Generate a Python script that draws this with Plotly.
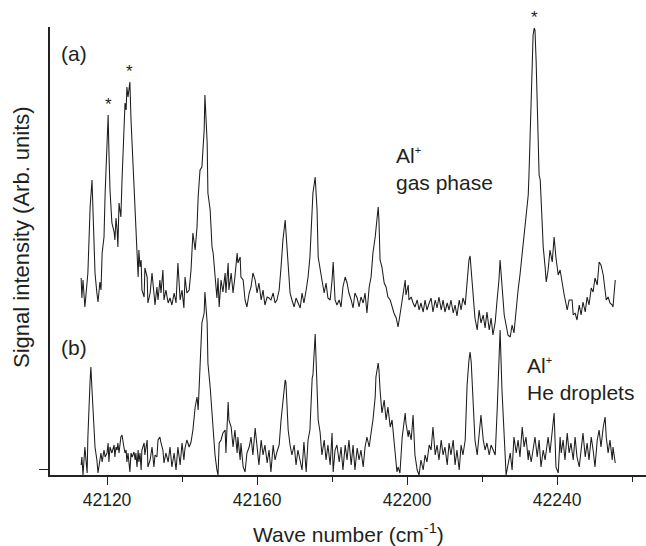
import numpy as np
import plotly.graph_objects as go

# ---------------- data ----------------
WN_A = [42113.1, 42113.3, 42113.6, 42114.1, 42114.9, 42115.5, 42116.0, 42116.5, 42116.8, 42117.3,
        42117.6, 42118.1, 42118.4, 42118.7, 42119.2, 42119.5, 42120.0, 42120.3, 42120.5, 42120.8,
        42121.3, 42121.9, 42122.1, 42122.4, 42122.7, 42122.9, 42123.2, 42123.7, 42124.0, 42124.5,
        42124.8, 42125.1, 42125.3, 42125.6, 42126.1, 42126.4, 42126.7, 42127.2, 42127.5, 42127.7,
        42128.0, 42128.3, 42128.5, 42128.8, 42129.1, 42129.3, 42129.9, 42130.1, 42130.7, 42130.9,
        42131.5, 42132.0, 42132.5, 42132.8, 42133.3, 42133.6, 42134.1, 42134.4, 42134.9, 42135.2,
        42135.7, 42136.3, 42136.8, 42137.3, 42137.9, 42138.4, 42138.9, 42139.5, 42140.0, 42140.5,
        42140.8, 42141.3, 42141.9, 42142.4, 42142.9, 42143.5, 42144.0, 42144.3, 42144.8, 42145.3,
        42145.9, 42146.1, 42146.7, 42146.9, 42147.5, 42148.0, 42148.3, 42148.8, 42149.3, 42149.6,
        42149.9, 42150.4, 42150.9, 42151.5, 42151.7, 42152.3, 42152.5, 42153.1, 42153.6, 42154.1,
        42154.7, 42154.9, 42155.5, 42155.7, 42156.3, 42156.8, 42157.3, 42157.9, 42158.4, 42158.9,
        42159.5, 42160.0, 42160.5, 42161.1, 42161.6, 42162.1, 42162.7, 42163.2, 42163.7, 42164.3,
        42164.8, 42165.3, 42165.9, 42166.4, 42166.9, 42167.5, 42167.7, 42168.3, 42168.8, 42169.3,
        42169.9, 42170.4, 42170.9, 42171.5, 42172.0, 42172.5, 42173.1, 42173.6, 42174.1, 42174.7,
        42174.9, 42175.5, 42176.0, 42176.3, 42176.8, 42177.3, 42177.9, 42178.4, 42178.9, 42179.5,
        42180.0, 42180.3, 42180.8, 42181.3, 42181.9, 42182.4, 42182.9, 42183.5, 42184.0, 42184.5,
        42185.1, 42185.6, 42186.1, 42186.7, 42187.2, 42187.7, 42188.3, 42188.8, 42189.3, 42189.9,
        42190.4, 42190.9, 42191.5, 42191.7, 42192.3, 42192.5, 42192.8, 42193.3, 42193.9, 42194.4,
        42194.9, 42195.5, 42196.0, 42196.5, 42197.1, 42197.3, 42197.6, 42198.1, 42198.7, 42199.5,
        42199.7, 42200.3, 42200.5, 42201.1, 42201.6, 42202.1, 42202.7, 42203.2, 42203.7, 42204.3,
        42204.8, 42205.3, 42205.9, 42206.4, 42206.9, 42207.5, 42208.0, 42208.5, 42209.1, 42209.6,
        42210.1, 42210.7, 42211.2, 42211.7, 42212.3, 42212.8, 42213.3, 42213.9, 42214.4, 42214.9,
        42215.5, 42216.0, 42216.5, 42216.8, 42217.1, 42217.6, 42218.1, 42218.7, 42219.2, 42219.7,
        42220.3, 42220.8, 42221.3, 42221.9, 42222.4, 42222.9, 42223.5, 42224.0, 42224.5, 42224.8,
        42225.3, 42225.9, 42226.4, 42226.9, 42227.5, 42228.0, 42228.5, 42229.1, 42229.6, 42230.1,
        42230.7, 42231.2, 42231.7, 42232.3, 42232.5, 42232.8, 42233.1, 42233.3, 42233.6, 42233.9,
        42234.1, 42234.4, 42234.7, 42234.9, 42235.2, 42235.5, 42235.7, 42236.0, 42236.3, 42236.8,
        42237.1, 42237.6, 42238.1, 42238.7, 42239.2, 42239.7, 42240.3, 42240.8, 42241.3, 42241.9,
        42242.7, 42243.2, 42244.0, 42244.3, 42244.8, 42245.3, 42245.9, 42246.4, 42246.9, 42247.5,
        42248.0, 42248.5, 42249.1, 42249.6, 42250.1, 42250.7, 42251.2, 42251.7, 42252.3, 42252.8,
        42253.1, 42253.6, 42254.1, 42254.7, 42254.9, 42255.5]

INT_A = [1.91, 1.71, 1.89, 1.62, 1.96, 2.62, 2.89, 2.32, 1.96, 1.76,
         1.67, 1.87, 1.79, 2.16, 2.32, 2.76, 3.19, 3.54, 3.19, 2.79,
         2.46, 2.37, 2.29, 2.51, 2.39, 2.22, 2.66, 2.52, 2.89, 3.46,
         3.66, 3.59, 3.82, 3.72, 3.87, 3.49, 3.22, 2.76, 2.49, 2.29,
         2.09, 1.92, 2.19, 2.02, 2.09, 1.79, 1.72, 2.01, 1.92, 1.66,
         1.76, 1.96, 1.76, 1.64, 1.82, 1.69, 1.89, 1.76, 1.99, 1.69,
         1.79, 1.66, 1.71, 1.64, 1.76, 1.66, 2.06, 1.69, 1.79, 1.61,
         1.92, 1.76, 1.79, 1.99, 2.36, 2.19, 2.42, 2.72, 2.99, 3.02,
         3.39, 3.74, 3.26, 2.76, 2.59, 2.22, 2.16, 1.96, 1.71, 1.91,
         1.62, 1.89, 1.77, 1.96, 1.76, 2.06, 1.79, 1.96, 1.76, 1.92,
         2.16, 2.06, 2.12, 1.92, 1.89, 1.69, 1.62, 1.76, 1.82, 1.96,
         1.89, 1.76, 1.86, 1.69, 1.79, 1.64, 1.72, 1.71, 1.69, 1.76,
         1.66, 1.69, 1.79, 2.02, 2.29, 2.49, 2.36, 2.02, 1.76, 1.69,
         1.62, 1.71, 1.66, 1.61, 1.76, 1.66, 1.79, 1.92, 2.12, 2.56,
         2.76, 2.92, 2.59, 2.12, 2.02, 1.89, 1.76, 1.86, 1.71, 1.69,
         1.89, 2.07, 1.69, 1.64, 1.69, 1.62, 1.82, 1.92, 1.86, 1.76,
         1.69, 1.61, 1.76, 1.71, 1.62, 1.72, 1.66, 1.76, 1.56, 1.82,
         1.92, 2.16, 2.32, 2.42, 2.62, 2.49, 2.09, 2.02, 1.86, 1.82,
         1.72, 1.69, 1.62, 1.56, 1.51, 1.47, 1.42, 1.54, 1.69, 1.89,
         1.74, 1.84, 1.69, 1.72, 1.66, 1.62, 1.69, 1.59, 1.66, 1.57,
         1.69, 1.59, 1.66, 1.71, 1.57, 1.69, 1.61, 1.72, 1.59, 1.69,
         1.57, 1.66, 1.59, 1.69, 1.56, 1.64, 1.53, 1.69, 1.59, 1.71,
         1.64, 1.89, 2.09, 2.13, 1.99, 1.69, 1.51, 1.39, 1.59, 1.46,
         1.54, 1.41, 1.57, 1.39, 1.51, 1.34, 1.47, 1.69, 1.89, 2.09,
         1.79, 1.54, 1.44, 1.34, 1.32, 1.44, 1.36, 1.64, 1.79, 1.94,
         2.14, 2.34, 2.49, 2.74, 2.94, 3.29, 3.69, 4.09, 4.34, 4.41,
         4.39, 4.09, 3.69, 3.39, 2.94, 2.89, 2.69, 2.49, 2.22, 2.02,
         1.87, 1.99, 2.19, 2.07, 2.32, 2.11, 1.94, 1.99, 1.86, 1.74,
         1.59, 1.69, 1.69, 1.54, 1.56, 1.49, 1.64, 1.54, 1.67, 1.57,
         1.72, 1.64, 1.81, 1.77, 1.91, 1.84, 2.07, 2.04, 1.94, 1.79,
         1.69, 1.72, 1.66, 1.64, 1.62, 1.89]

WN_B = [42113.1, 42113.3, 42113.6, 42114.1, 42114.7, 42114.9, 42115.5, 42115.7, 42116.0, 42116.5,
        42116.8, 42117.3, 42117.6, 42118.1, 42118.4, 42118.7, 42119.2, 42119.5, 42120.0, 42120.3,
        42120.5, 42120.8, 42121.3, 42121.9, 42122.1, 42122.4, 42122.7, 42122.9, 42123.2, 42123.7,
        42124.0, 42124.5, 42124.8, 42125.1, 42125.3, 42125.6, 42126.1, 42126.4, 42126.7, 42127.2,
        42127.5, 42127.7, 42128.0, 42128.3, 42128.5, 42128.8, 42129.1, 42129.3, 42129.9, 42130.1,
        42130.7, 42130.9, 42131.5, 42132.0, 42132.5, 42132.8, 42133.3, 42133.6, 42134.1, 42134.4,
        42134.9, 42135.2, 42135.7, 42136.3, 42136.8, 42137.3, 42137.9, 42138.4, 42138.9, 42139.5,
        42140.0, 42140.5, 42140.8, 42141.3, 42141.9, 42142.4, 42142.9, 42143.5, 42144.0, 42144.3,
        42144.8, 42145.3, 42145.9, 42146.1, 42146.7, 42146.9, 42147.5, 42148.0, 42148.3, 42148.8,
        42149.3, 42149.6, 42149.9, 42150.4, 42150.9, 42151.5, 42151.7, 42152.3, 42152.5, 42153.1,
        42153.6, 42154.1, 42154.7, 42154.9, 42155.5, 42155.7, 42156.3, 42156.8, 42157.3, 42157.9,
        42158.4, 42158.9, 42159.5, 42160.0, 42160.5, 42161.1, 42161.6, 42162.1, 42162.7, 42163.2,
        42163.7, 42164.3, 42164.8, 42165.3, 42165.9, 42166.4, 42166.9, 42167.5, 42167.7, 42168.3,
        42168.8, 42169.3, 42169.9, 42170.4, 42170.9, 42171.5, 42172.0, 42172.5, 42173.1, 42173.6,
        42174.1, 42174.7, 42174.9, 42175.5, 42176.0, 42176.3, 42176.8, 42177.3, 42177.9, 42178.4,
        42178.9, 42179.5, 42180.0, 42180.3, 42180.8, 42181.3, 42181.9, 42182.4, 42182.9, 42183.5,
        42184.0, 42184.5, 42185.1, 42185.6, 42186.1, 42186.7, 42187.2, 42187.7, 42188.3, 42188.8,
        42189.3, 42189.9, 42190.4, 42190.9, 42191.5, 42191.7, 42192.3, 42192.5, 42192.8, 42193.3,
        42193.9, 42194.4, 42194.9, 42195.5, 42196.0, 42196.5, 42197.1, 42197.3, 42197.6, 42198.1,
        42198.7, 42199.5, 42199.7, 42200.3, 42200.5, 42201.1, 42201.6, 42202.1, 42202.7, 42203.2,
        42203.7, 42204.3, 42204.8, 42205.3, 42205.9, 42206.4, 42206.9, 42207.5, 42208.0, 42208.5,
        42209.1, 42209.6, 42210.1, 42210.7, 42211.2, 42211.7, 42212.3, 42212.8, 42213.3, 42213.9,
        42214.4, 42214.9, 42215.5, 42216.0, 42216.5, 42216.8, 42217.1, 42217.6, 42218.1, 42218.7,
        42219.2, 42219.7, 42220.3, 42220.8, 42221.3, 42221.9, 42222.4, 42222.9, 42223.5, 42224.0,
        42224.5, 42224.8, 42225.3, 42225.9, 42226.4, 42226.9, 42227.5, 42228.0, 42228.5, 42229.1,
        42229.6, 42230.1, 42230.7, 42231.2, 42231.7, 42232.3, 42232.5, 42233.1, 42233.6, 42234.1,
        42234.7, 42235.2, 42235.7, 42236.3, 42236.8, 42237.6, 42238.1, 42238.7, 42239.2, 42239.7,
        42240.3, 42240.8, 42241.1, 42241.6, 42242.1, 42242.7, 42243.2, 42243.7, 42244.3, 42244.8,
        42245.3, 42245.9, 42246.4, 42246.9, 42247.5, 42248.0, 42248.5, 42249.1, 42249.6, 42250.1,
        42250.7, 42251.2, 42251.7, 42252.3, 42252.8, 42253.1, 42253.6, 42254.1, 42254.7, 42254.9,
        42255.5]

INT_B = [0.04, 0.12, -0.06, 0.22, -0.04, 0.32, 0.89, 1.02, 0.79, 0.46,
         0.22, 0.09, -0.04, 0.09, 0.16, 0.07, 0.19, 0.12, 0.16, 0.26,
         0.07, 0.22, 0.16, 0.24, 0.12, 0.22, 0.19, 0.26, 0.16, 0.32,
         0.34, 0.22, 0.16, 0.19, 0.07, 0.16, -0.03, 0.16, 0.12, 0.17,
         0.09, 0.16, 0.02, 0.19, 0.07, 0.16, -0.01, 0.19, 0.26, 0.14,
         0.29, 0.02, 0.09, 0.22, 0.02, 0.14, 0.12, 0.29, 0.32, 0.26,
         0.19, 0.06, 0.16, 0.07, 0.22, 0.02, 0.16, -0.01, 0.22, 0.04,
         0.26, 0.09, 0.21, 0.29, 0.22, 0.27, 0.39, 0.62, 0.72, 0.59,
         0.99, 1.46, 1.56, 1.77, 1.46, 1.06, 0.82, 0.56, 0.46, 0.14,
         -0.01, -0.06, 0.26, 0.29, 0.36, 0.39, 0.16, 0.67, 0.49, 0.42,
         0.22, 0.39, 0.16, 0.32, 0.09, 0.26, 0.02, -0.03, 0.16, 0.22,
         0.32, 0.14, 0.41, 0.19, 0.04, 0.29, 0.14, 0.24, 0.06, 0.19,
         -0.03, 0.24, 0.09, 0.17, 0.24, 0.49, 0.69, 0.89, 0.87, 0.39,
         0.24, 0.14, 0.24, 0.04, 0.19, 0.09, -0.01, 0.27, -0.03, 0.29,
         0.39, 0.91, 0.94, 1.35, 0.74, 0.49, 0.37, 0.14, 0.29, 0.09,
         0.24, 0.04, 0.36, -0.03, 0.19, 0.24, 0.07, 0.22, -0.01, 0.24,
         0.09, 0.29, 0.04, 0.24, -0.01, 0.21, 0.09, 0.19, 0.02, 0.22,
         0.32, 0.22, 0.36, 0.49, 0.72, 0.92, 1.06, 0.99, 0.79, 0.56,
         0.69, 0.49, 0.62, 0.42, 0.49, 0.29, 0.09, -0.03, 0.02, -0.04,
         0.32, 0.56, 0.46, 0.32, 0.39, 0.29, 0.54, 0.14, -0.01, -0.06,
         0.09, -0.01, 0.14, 0.07, 0.24, 0.19, 0.42, 0.14, 0.24, 0.09,
         0.29, 0.14, 0.22, 0.04, 0.26, 0.14, 0.29, 0.04, 0.19, -0.01,
         0.24, 0.14, 0.29, 0.84, 1.09, 1.17, 1.07, 0.69, 0.29, 0.14,
         0.39, 0.54, 0.29, 0.19, 0.26, 0.14, 0.24, 0.19, 0.14, 0.57,
         1.19, 1.39, 0.79, 0.29, -0.06, 0.04, 0.16, -0.01, 0.32, 0.16,
         0.29, 0.12, 0.42, 0.22, 0.32, 0.09, 0.19, 0.07, 0.22, 0.32,
         0.12, 0.29, 0.02, 0.19, 0.09, 0.32, 0.16, 0.39, 0.56, 0.02,
         -0.04, 0.32, 0.16, 0.29, 0.09, 0.36, 0.16, 0.26, 0.09, 0.32,
         0.12, 0.02, 0.22, 0.36, 0.12, 0.26, 0.09, 0.32, 0.19, 0.02,
         0.29, 0.39, 0.22, 0.42, 0.52, 0.32, 0.16, 0.29, 0.09, 0.22,
         0.06]

STARRED_PEAKS = [42120.3, 42126.1, 42233.9]   # lines marked with *
X_TICKS = [42120, 42160, 42200, 42240]
X_RANGE = [42104.8, 42263.7]
Y_RANGE = [-0.06, 4.42]

# ---------------- figure ----------------
W, H = 646, 546
ML, MR, MT, MB = 50, 0, 27, 71
PW, PH = W - ML - MR, H - MT - MB
INK = "#231f20"
FONT = "Liberation Sans, Arial, Helvetica, sans-serif"


def px_x(px):
    return (px - ML) / PW


def px_y(py):
    return (H - MB - py) / PH


fig = go.Figure()
line_style = dict(color="#1c1c1c", width=1.05)
fig.add_trace(go.Scatter(x=WN_A, y=INT_A, mode="lines", line=line_style,
                         name="gas phase", showlegend=False, hoverinfo="skip"))
fig.add_trace(go.Scatter(x=WN_B, y=INT_B, mode="lines", line=line_style,
                         name="He droplets", showlegend=False, hoverinfo="skip"))

annotations = []
for wn in STARRED_PEAKS:
    yv = float(np.interp(wn, WN_A, INT_A))
    annotations.append(dict(x=wn, y=yv, xref="x", yref="y", text="*",
                            showarrow=False, yanchor="middle", xanchor="center",
                            yshift=11, font=dict(size=17, color=INK, family=FONT)))

label_font = dict(size=21, color=INK, family=FONT)
SUP_PLUS = "<sup><span style='font-size:11px'>+</span></sup>"
annotations += [
    dict(x=px_x(59), y=px_y(54), xref="paper", yref="paper", text="(a)",
         showarrow=False, xanchor="left", yanchor="middle", font=label_font),
    dict(x=px_x(59), y=px_y(347), xref="paper", yref="paper", text="(b)",
         showarrow=False, xanchor="left", yanchor="middle", font=label_font),
    dict(x=px_x(394), y=px_y(142), xref="paper", yref="paper",
         text="Al" + SUP_PLUS + "<br>gas phase", align="left",
         showarrow=False, xanchor="left", yanchor="top", font=label_font),
    dict(x=px_x(525), y=px_y(352), xref="paper", yref="paper",
         text="Al" + SUP_PLUS + "<br>He droplets", align="left",
         showarrow=False, xanchor="left", yanchor="top", font=label_font),
    dict(x=px_x(348), y=px_y(533), xref="paper", yref="paper",
         text="Wave number (cm<sup>-1</sup>)",
         showarrow=False, xanchor="center", yanchor="middle",
         font=dict(size=21, color=INK, family=FONT)),
    dict(x=px_x(21), y=px_y(237), xref="paper", yref="paper",
         text="Signal intensity (Arb. units)", textangle=-90,
         showarrow=False, xanchor="center", yanchor="middle",
         font=dict(size=22, color=INK, family=FONT)),
]

fig.update_layout(
    width=W, height=H,
    margin=dict(l=ML, r=MR, t=MT, b=MB, pad=0),
    paper_bgcolor="white", plot_bgcolor="white",
    font=dict(family=FONT, color=INK),
    annotations=annotations,
    showlegend=False,
)
fig.update_xaxes(
    range=X_RANGE, showgrid=False, zeroline=False,
    showline=True, linecolor="#222", linewidth=1.6,
    ticks="outside", ticklen=8, tickwidth=1.4, tickcolor="#222",
    tickvals=X_TICKS, ticktext=[str(t) for t in X_TICKS],
    tickfont=dict(size=17.5, color=INK, family=FONT),
    minor=dict(ticks="outside", ticklen=5, tickwidth=1.4, tickcolor="#222",
               dtick=20, tick0=42120, showgrid=False),
)
fig.update_yaxes(
    range=Y_RANGE, showgrid=False, zeroline=False,
    showline=True, linecolor="#222", linewidth=1.6,
    ticks="outside", ticklen=9, tickwidth=1.4, tickcolor="#222",
    tickvals=[0], showticklabels=False,
)

fig.write_html(
    "out.html",
    config={"displayModeBar": False},
    post_script="document.body.style.margin='0px';document.body.style.overflow='hidden';",
)
